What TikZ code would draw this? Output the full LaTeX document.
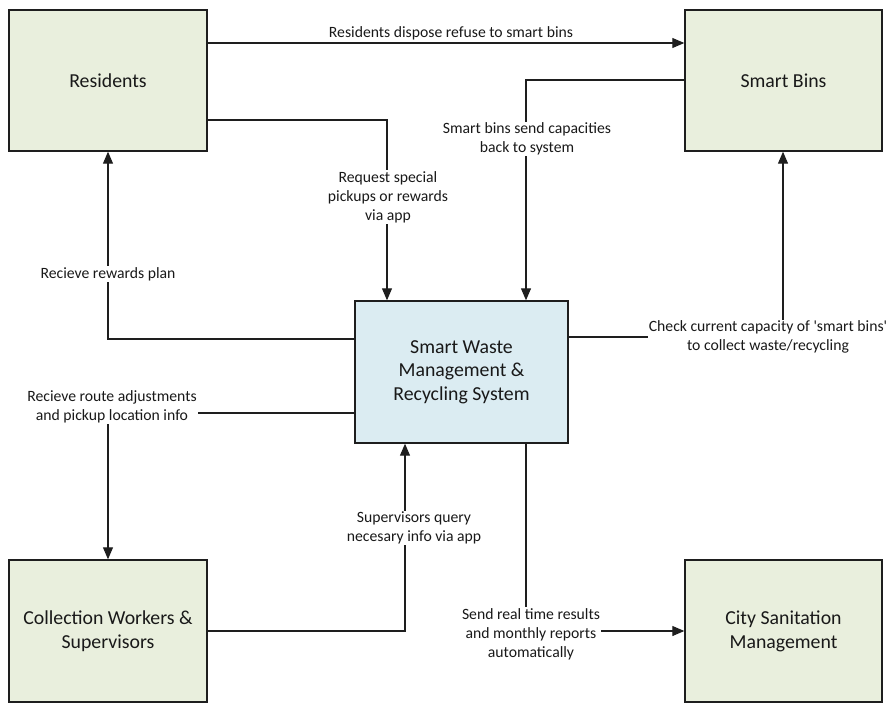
\documentclass[tikz,border=0pt]{standalone}
\usepackage{fontspec}
\setmainfont{Carlito}
\usetikzlibrary{arrows.meta}
\definecolor{gfill}{RGB}{233,239,221}
\definecolor{bfill}{RGB}{219,236,242}
\definecolor{edge}{RGB}{30,30,30}
\definecolor{txt}{RGB}{25,25,25}
\tikzset{
  box/.style={draw=edge, line width=1.4pt, minimum height=141pt, align=center, text=txt,
    font=\fontsize{19.8}{23.7}\selectfont, inner sep=0pt},
  ent/.style={box, fill=gfill, minimum width=198pt},
  sysbox/.style={box, fill=bfill, minimum width=213pt, minimum height=142pt},
  conn/.style={draw=edge, line width=1.1pt, -{Triangle[length=12pt,width=10pt]}},
  lbl/.style={fill=white, align=center, text=txt, font=\fontsize{15.7}{19}\selectfont, inner sep=1pt},
  lblnf/.style={align=center, text=txt, font=\fontsize{15.7}{19}\selectfont, inner sep=1pt}
}
\begin{document}
\begin{tikzpicture}[x=1pt,y=-1pt]
\useasboundingbox (0,0) rectangle (890,711);
\node[ent] (res) at (108,80.5) {Residents};
\node[ent, minimum width=197pt] (bins) at (783.5,80.5) {Smart Bins};
\node[sysbox] (sys) at (461.5,372) {Smart Waste\\Management \&\\Recycling System};
\node[ent, minimum height=142pt] (col) at (108,631) {Collection Workers \&\\Supervisors};
\node[ent, minimum width=197pt, minimum height=142pt] (city) at (783.5,631) {City Sanitation\\Management};

% corner coordinates
\coordinate (c2) at (387,120);
\coordinate (c3) at (526,80);
\coordinate (c4) at (108,339);
\coordinate (c5) at (108,413);
\coordinate (c6) at (405,631);
\coordinate (c7) at (526,631);
\coordinate (c8) at (783,337);

% 1
\draw[conn] (res.east |- 0,43) -- (bins.west |- 0,43);
\node[lblnf] (l1) at (451,33) {Residents dispose refuse to smart bins};
% 2
\draw[conn] (res.east |- c2) -- (c2) -- (sys.north -| c2);
\node[lbl] (l2) at (388,197) {Request special\\pickups or rewards\\via app};
% 3
\draw[conn] (bins.west |- c3) -- (c3) -- (sys.north -| c3);
\node[lbl] (l3) at (527,139) {Smart bins send capacities\\back to system};
% 4
\draw[conn] (sys.west |- c4) -- (c4) -- (res.south);
\node[lbl] (l4) at (108,274) {Recieve rewards plan};
% 5
\draw[conn] (sys.west |- c5) -- (c5) -- (col.north);
\node[lbl] (l5) at (112,407) {Recieve route adjustments\\and pickup location info};
% 6
\draw[conn] (col.east |- c6) -- (c6) -- (sys.south -| c6);
\node[lbl] (l6) at (414,528) {Supervisors query\\necesary info via app};
% 7
\draw[conn] (sys.south -| c7) -- (c7) -- (city.west |- c7);
\node[lbl] (l7) at (531,634) {Send real time results\\and monthly reports\\automatically};
% 8
\draw[conn] (sys.east |- c8) -- (c8) -- (bins.south -| c8);
\node[lbl] (l8) at (768,337) {Check current capacity of \textquotesingle smart bins\textquotesingle\\to collect waste/recycling};
\end{tikzpicture}
\end{document}
